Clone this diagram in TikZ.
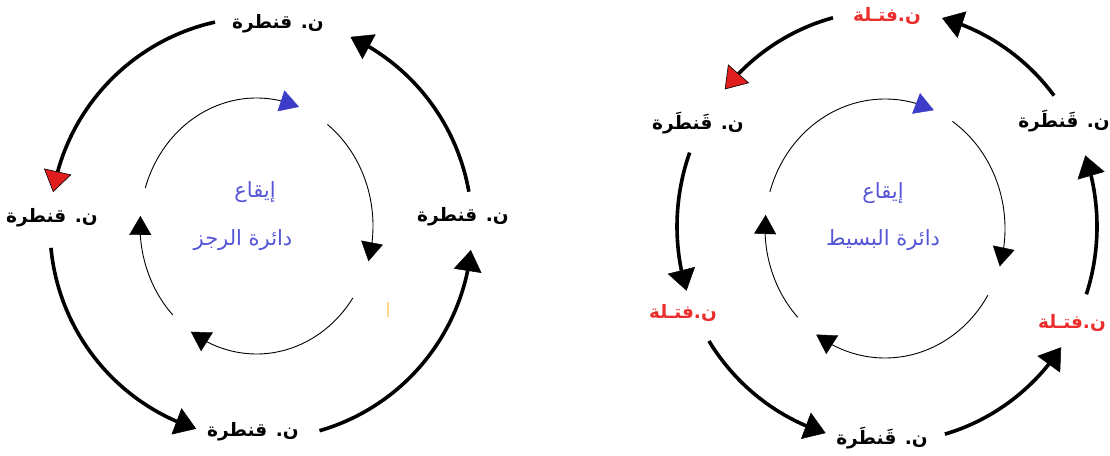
\documentclass[tikz,border=0pt]{standalone}
\usepackage{fontspec}
\usetikzlibrary{arrows.meta,calc,bending}
\TeXXeTstate=1
\newfontfamily\arabicfont[Script=Arabic]{DejaVu Sans}
\definecolor{rhythmblue}{RGB}{85,85,215}
\definecolor{tipblue}{RGB}{60,60,200}
\definecolor{weakred}{RGB}{235,45,45}
\definecolor{tipred}{RGB}{225,30,30}

% one arc of a ring: style, start-point name, centre, x radius, y radius, start angle, end angle
\newcommand\ringarc[7]{%
  \coordinate (#2) at ($(#3)+(#6:#4 and #5)$);
  \draw[#1] (#2) arc[start angle=#6, end angle=#7, x radius=#4, y radius=#5];}

\begin{document}
\begin{tikzpicture}[x=1pt,y=1pt,
  lbl/.style={font=\arabicfont\bfseries\fontsize{18.5}{22}\selectfont, inner sep=0pt},
  mid/.style={font=\arabicfont\fontsize{21}{24}\selectfont, text=rhythmblue, inner sep=0pt},
  outer/.style={line width=3.6pt, -{Triangle[length=21pt,width=28pt,line width=0.5pt]}},
  outerred/.style={line width=3.6pt, -{Triangle[length=21pt,width=28pt,line width=0.6pt,fill=tipred]}},
  inner/.style={line width=0.9pt, -{Triangle[length=19pt,width=22pt,line width=0.4pt]}},
  innerblue/.style={line width=0.9pt, -{Triangle[length=19pt,width=22pt,line width=0.4pt,color=tipblue,fill=tipblue]}}
]
\useasboundingbox (0,0) rectangle (1110,455);

% ---------------- rajaz ring ----------------
\coordinate (C1) at (261,227);
\coordinate (E1) at (256.5,229);

\node[lbl] (l-top)    at (278,431) {\beginR ن. قنطرة\endR};
\node[lbl] (l-left)   at (52,237)  {\beginR ن. قنطرة\endR};
\node[lbl] (l-right)  at (463,238) {\beginR ن. قنطرة\endR};
\node[lbl] (l-bottom) at (253,23)  {\beginR ن. قنطرة\endR};
\node[mid] (l-iqa)    at (255,263) {\beginR إيقاع\endR};
\node[mid] (l-name)   at (243,215) {\beginR دائرة الرجز\endR};

\ringarc{outerred}{l-a1}{C1}{211}{211}{102.6}{170.2}
\ringarc{outer}{l-a2}{C1}{211}{211}{185.4}{252.1}
\ringarc{outer}{l-a3}{C1}{211}{211}{286.1}{354}
\ringarc{outer}{l-a4}{C1}{211}{211}{9.9}{64.9}

\ringarc{innerblue}{l-i1}{E1}{116.5}{128}{162.7}{68.6}
\ringarc{inner}{l-i2}{E1}{116.5}{128}{52.5}{-16}
\ringarc{inner}{l-i3}{E1}{116.5}{128}{-34.2}{-124.3}
\ringarc{inner}{l-i4}{E1}{116.5}{128}{-135.9}{-184.5}

\fill[orange!70!yellow, opacity=0.45] (387,138) rectangle (389,153);

% ---------------- basit ring ----------------
\coordinate (C2) at (887,228.5);
\coordinate (E2) at (885,226.5);

\node[lbl, text=weakred] (r-top)    at (887,439) {\beginR ن.فتـلة\endR};
\node[lbl] (r-uleft)  at (698,332) {\beginR ن. قَنطَرة\endR};
\node[lbl] (r-uright) at (1064,334) {\beginR ن. قَنطَرة\endR};
\node[lbl, text=weakred] (r-lleft)  at (683,142) {\beginR ن.فتـلة\endR};
\node[lbl, text=weakred] (r-lright) at (1072,132) {\beginR ن.فتـلة\endR};
\node[lbl] (r-bottom) at (882,17)  {\beginR ن. قَنطَرة\endR};
\node[mid] (r-iqa)    at (883,262) {\beginR إيقاع\endR};
\node[mid] (r-name)   at (883,215) {\beginR دائرة البسيط\endR};

\ringarc{outerred}{r-a1}{C2}{210}{216}{104.9}{140.6}
\ringarc{outer}{r-a2}{C2}{210}{216}{160}{197.3}
\ringarc{outer}{r-a3}{C2}{210}{216}{212}{253}
\ringarc{outer}{r-a4}{C2}{210}{216}{286}{326}
\ringarc{outer}{r-a5}{C2}{210}{216}{341.7}{379.2}
\ringarc{outer}{r-a6}{C2}{210}{216}{37.3}{74.8}

\ringarc{innerblue}{r-i1}{E2}{120}{129.5}{163.6}{66}
\ringarc{inner}{r-i2}{E2}{120}{129.5}{55.8}{-17}
\ringarc{inner}{r-i3}{E2}{120}{129.5}{-31}{-125}
\ringarc{inner}{r-i4}{E2}{120}{129.5}{-136.7}{-186}
\end{tikzpicture}
\end{document}
